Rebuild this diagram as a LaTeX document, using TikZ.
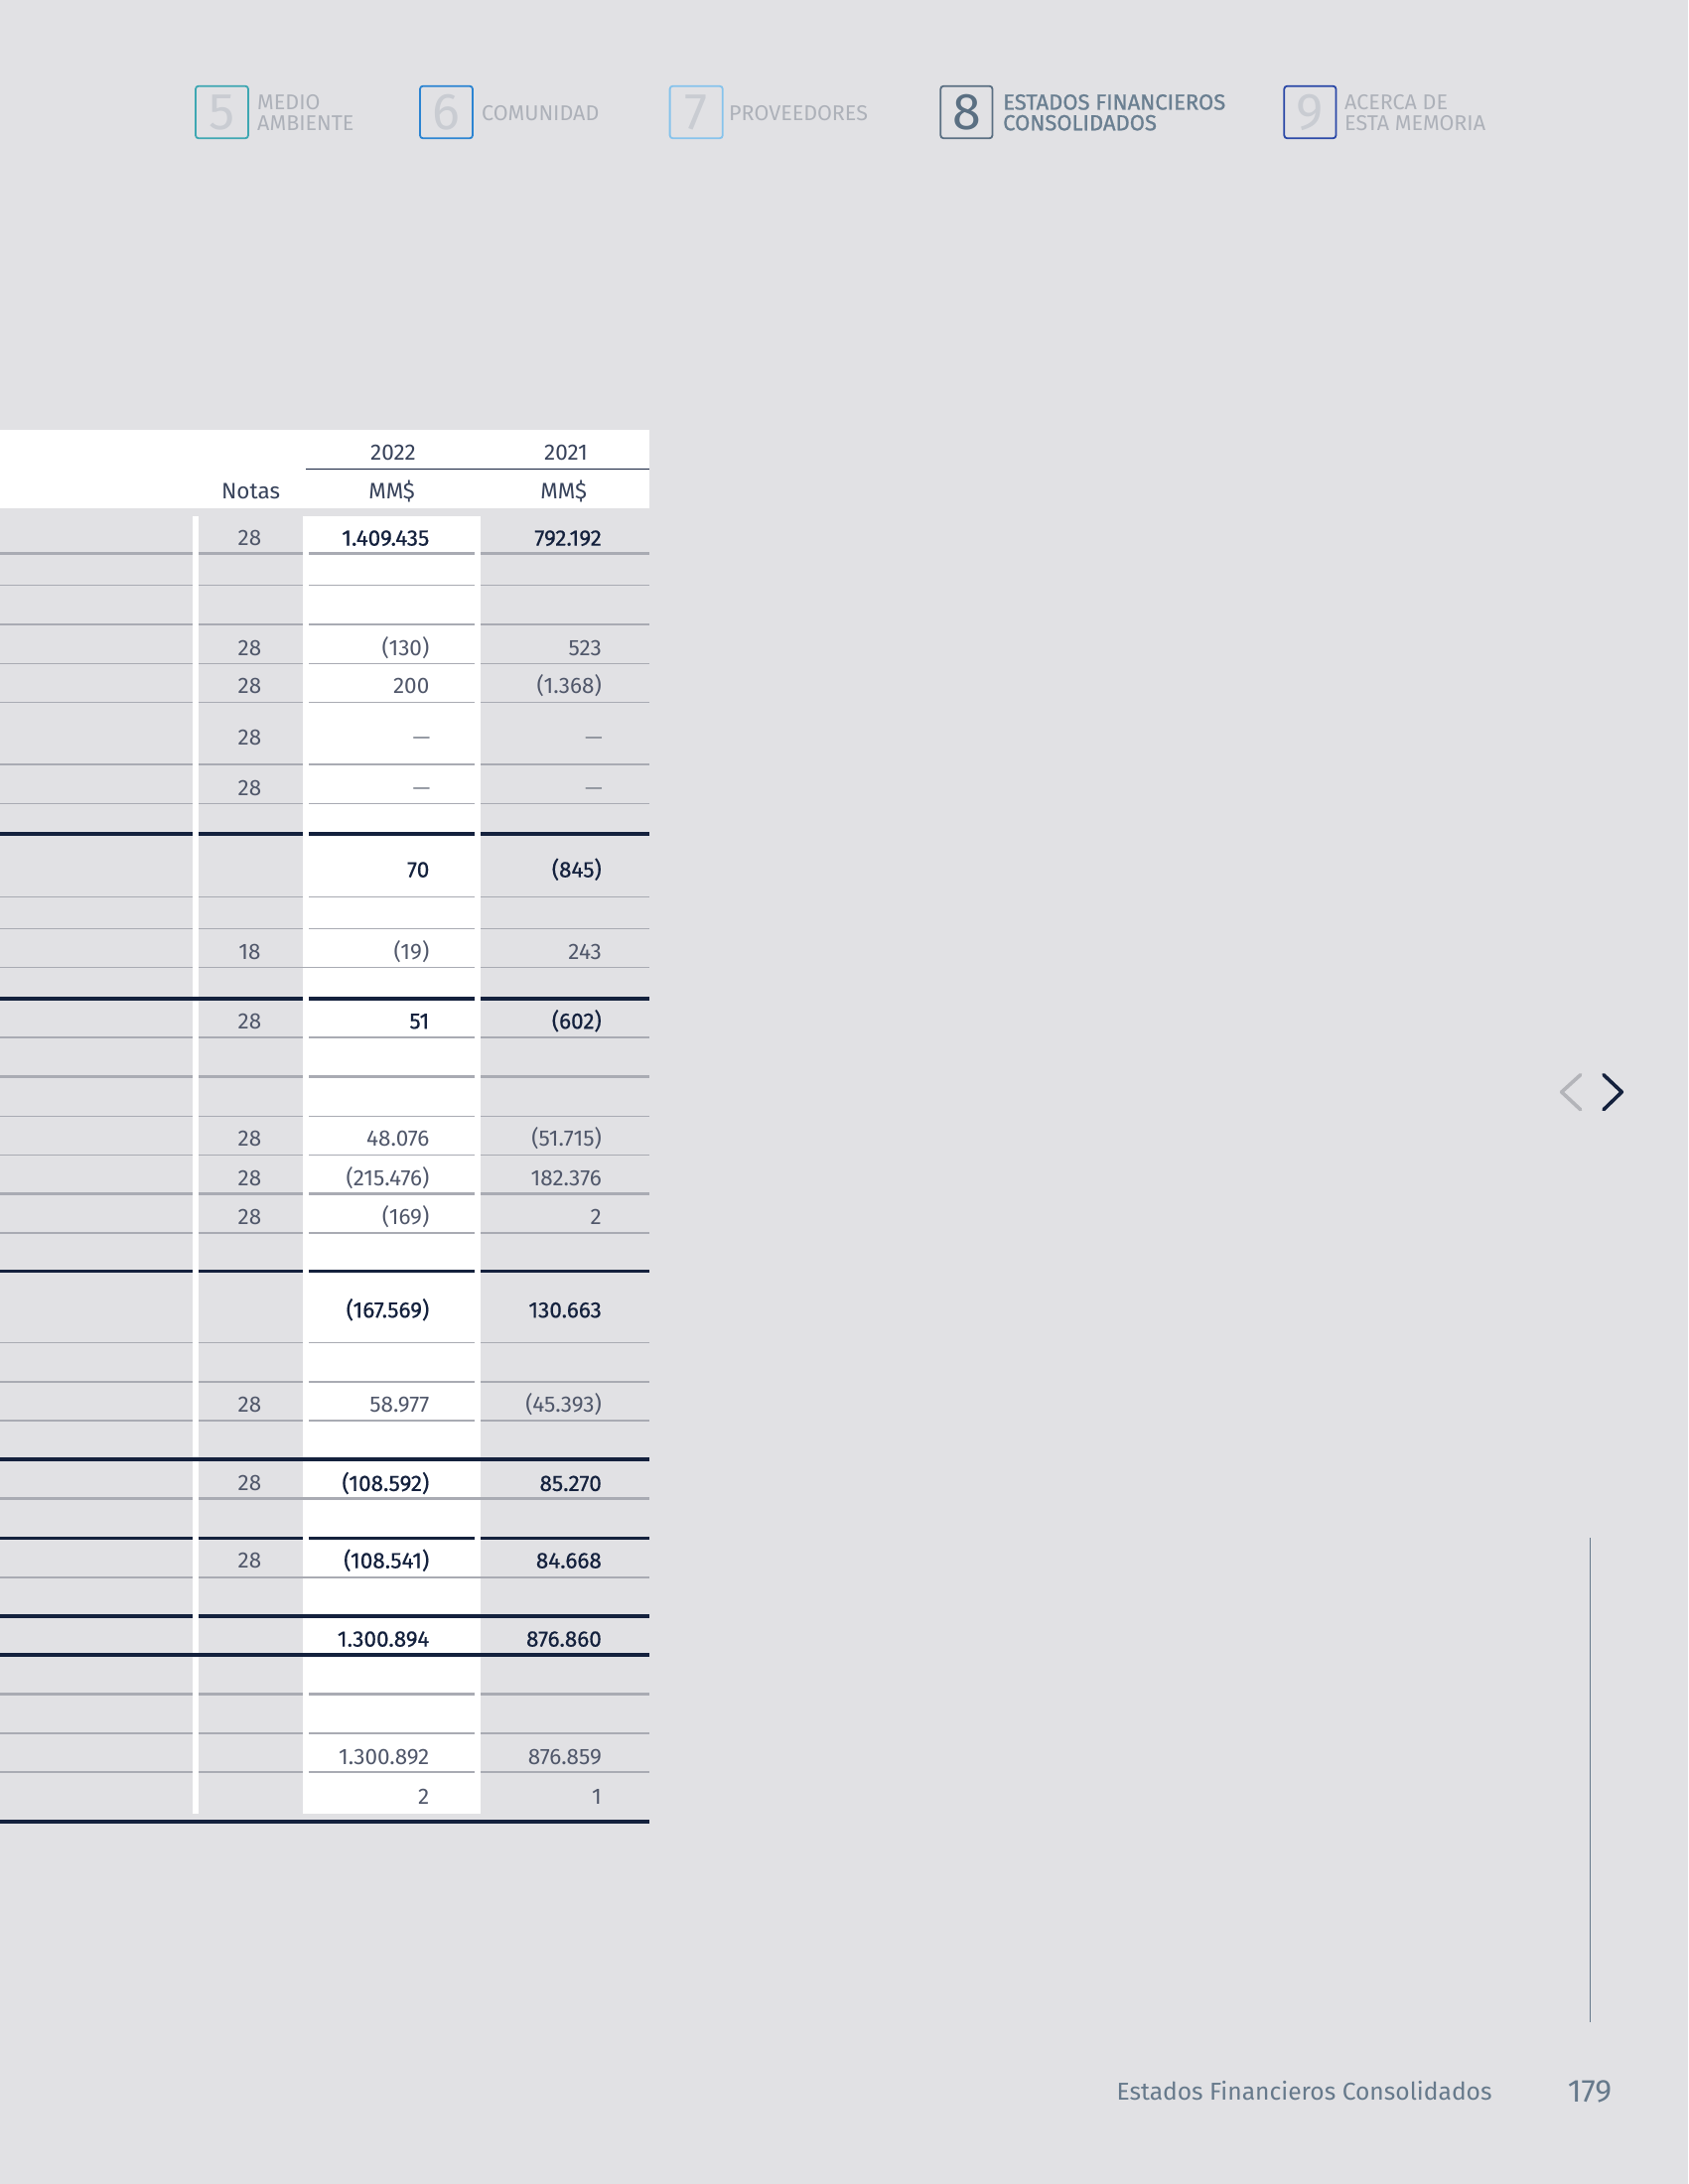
\documentclass[tikz,border=0pt]{standalone}
\usepackage{fontspec}
\setmainfont{Fira Sans}
\newfontfamily\condfont{Fira Sans}
\newfontfamily\condbold{Fira Sans}[FakeBold=0.5]
\newfontfamily\navfont{Fira Sans}
\newfontfamily\navbold{Fira Sans}[FakeBold=1.0]
\definecolor{bgc}{HTML}{E1E1E4}
\definecolor{navy}{HTML}{14213D}
\definecolor{numgray}{HTML}{50576A}
\definecolor{linegray}{HTML}{A9ABB3}
\definecolor{navgray}{HTML}{ADB1B9}
\definecolor{digitgray}{HTML}{C9CCD2}
\definecolor{slate}{HTML}{5A6F82}
\definecolor{slatetext}{HTML}{6A7F91}
\definecolor{cteal}{HTML}{3EA7B2}
\definecolor{cblue}{HTML}{2B84D2}
\definecolor{clight}{HTML}{86C3EC}
\definecolor{cnavy}{HTML}{2947A6}
\definecolor{footc}{HTML}{66798B}
\definecolor{chevgray}{HTML}{B3B4B9}
\definecolor{dashc}{HTML}{8A8F99}
\tikzset{
  rulethin/.style={draw=linegray,line width=1.6pt},
  rulethick/.style={draw=linegray,line width=2.5pt},
  ruledark/.style={draw=navy,line width=3.2pt},
  num/.style={anchor=base east,inner sep=0pt,font=\condfont\fontsize{22.5}{26}\selectfont,text=numgray},
  bnum/.style={anchor=base east,inner sep=0pt,font=\condbold\fontsize{22.5}{26}\selectfont,text=navy},
  dashn/.style={anchor=base east,inner sep=0pt,font=\condfont\fontsize{22.5}{26}\selectfont,text=dashc},
  nota/.style={anchor=base,inner sep=0pt,font=\condfont\fontsize{22.5}{26}\selectfont,text=numgray},
  head/.style={anchor=base,inner sep=0pt,font=\condfont\fontsize{22.5}{26}\selectfont,text=navy!85!white},
  navbox/.style={rounded corners=3pt,line width=1.8pt},
  navdigit/.style={inner sep=0pt,font=\navfont\fontsize{52}{56}\selectfont},
  navtext/.style={anchor=west,inner sep=0pt,align=left,font=\navfont\fontsize{21.5}{20.8}\selectfont,text=navgray},
  navtextb/.style={anchor=west,inner sep=0pt,align=left,font=\navbold\fontsize{22}{20.8}\selectfont,text=slatetext},
  chev/.style={line width=3.6pt,line cap=round,line join=round}
}
\begin{document}
\begin{tikzpicture}[x=1pt,y=-1pt]
\fill[bgc] (0,0) rectangle (1700,2200);
\useasboundingbox (0,0) rectangle (1700,2200);

% ---------- navigation header ----------
\draw[navbox,draw=cteal] (197,86.7) rectangle (250,139.3);
\node[navdigit,text=digitgray] (d5) at (223.5,113) {5};
\node[navtext] (t5) at (259,113.5) {MEDIO\\AMBIENTE};

\draw[navbox,draw=cblue] (423,86.7) rectangle (476,139.3);
\node[navdigit,text=digitgray] (d6) at (449.5,113) {6};
\node[navtext] (t6) at (485,114.3) {COMUNIDAD};

\draw[navbox,draw=clight] (674.6,86.7) rectangle (727.8,139.3);
\node[navdigit,text=digitgray] (d7) at (701.2,113) {7};
\node[navtext] (t7) at (734,114.3) {PROVEEDORES};

\draw[navbox,draw=slate] (947.3,86.7) rectangle (999.5,139.3);
\node[navdigit,text=slate] (d8) at (973.4,113) {8};
\node[navtextb] (t8) at (1010,113.3) {ESTADOS FINANCIEROS\\CONSOLIDADOS};

\draw[navbox,draw=cnavy] (1293.3,86.7) rectangle (1345.5,139.3);
\node[navdigit,text=digitgray] (d9) at (1319.4,113) {9};
\node[navtext] (t9) at (1354,113.5) {ACERCA DE\\ESTA MEMORIA};

% ---------- table header ----------
\fill[white] (0,432.7) rectangle (654,511.7);
\draw[draw=navy,line width=1.6pt] (308,472.3) -- (654,472.3);
\node[head] (h2022) at (396,463.8) {2022};
\node[head] (h2021) at (570,463.8) {2021};
\node[head] (hnotas) at (252.5,502.8) {Notas};
\node[head] (hmm1) at (394.6,502.8) {MM\$};
\node[head] (hmm2) at (567.7,502.8) {MM\$};

% ---------- white column & strip ----------
\fill[white] (305,520) rectangle (484,1826.7);
\fill[white] (194.4,520) rectangle (200,1826.7);

% ---------- rules (four segments) ----------
\foreach \yy/\st in {557.3/rulethick,589.3/rulethin,629/rulethick,668.3/rulethin,707.3/rulethin,
  770/rulethick,809.3/rulethin,840/ruledark,903.3/rulethin,935.3/rulethin,1045/rulethin,
  1084.3/rulethick,1124.3/rulethin,1163.3/rulethin,1202.7/rulethick,1242/rulethin,1280.7/ruledark,
  1352.3/rulethin,1392/rulethick,1431/rulethin,1549.3/ruledark,1706.7/rulethick,1746/rulethin,1785/rulethin}{
  \draw[\st] (0,\yy) -- (194.4,\yy);
  \draw[\st] (200,\yy) -- (305,\yy);
  \draw[\st] (311,\yy) -- (478,\yy);
  \draw[\st] (484,\yy) -- (654,\yy);
}
% joined segments
\draw[rulethin] (0,974.3) -- (194.4,974.3);
\draw[rulethin] (200,974.3) -- (478,974.3);
\draw[rulethin] (484,974.3) -- (654,974.3);
\draw[ruledark] (0,1006) -- (305,1006);
\draw[ruledark] (311,1006) -- (478,1006);
\draw[ruledark] (484,1006) -- (654,1006);
\draw[ruledark] (0,1470) -- (654,1470);
\draw[rulethick] (0,1509.7) -- (194.4,1509.7);
\draw[rulethick] (200,1509.7) -- (654,1509.7);
\draw[rulethick] (0,1589) -- (194.4,1589);
\draw[rulethick] (200,1589) -- (654,1589);
\draw[ruledark] (0,1628) -- (194.4,1628);
\draw[ruledark] (200,1628) -- (654,1628);
\draw[ruledark] (0,1667) -- (654,1667);
\draw[ruledark] (0,1835) -- (654,1835);

% ---------- table values ----------
\node[nota] (n1) at (251.5,549.6) {28};
\node[bnum] (a1) at (432.5,549.6) {1.409.435};
\node[bnum] (b1) at (606,549.6) {792.192};

\node[nota] (n2) at (251.5,660.2) {28};
\node[num] (a2) at (432.5,660.2) {(130)};
\node[num] (b2) at (606,660.2) {523};

\node[nota] (n3) at (251.5,698.6) {28};
\node[num] (a3) at (432.5,698.6) {200};
\node[num] (b3) at (606,698.6) {(1.368)};

\node[nota] (n4) at (251.5,750.6) {28};
\node[dashn] (a4) at (433.5,750.6) {—};
\node[dashn] (b4) at (607,750.6) {—};

\node[nota] (n5) at (251.5,801.2) {28};
\node[dashn] (a5) at (433.5,801.2) {—};
\node[dashn] (b5) at (607,801.2) {—};

\node[bnum] (a6) at (432.5,883.6) {70};
\node[bnum] (b6) at (606,883.6) {(845)};

\node[nota] (n7) at (251.5,966.2) {18};
\node[num] (a7) at (432.5,966.2) {(19)};
\node[num] (b7) at (606,966.2) {243};

\node[nota] (n8) at (251.5,1036.2) {28};
\node[bnum] (a8) at (432.5,1036.2) {51};
\node[bnum] (b8) at (606,1036.2) {(602)};

\node[nota] (n9) at (251.5,1154.6) {28};
\node[num] (a9) at (432.5,1154.6) {48.076};
\node[num] (b9) at (606,1154.6) {(51.715)};

\node[nota] (n10) at (251.5,1194.6) {28};
\node[num] (a10) at (432.5,1194.6) {(215.476)};
\node[num] (b10) at (606,1194.6) {182.376};

\node[nota] (n11) at (251.5,1233.6) {28};
\node[num] (a11) at (432.5,1233.6) {(169)};
\node[num] (b11) at (606,1233.6) {2};

\node[bnum] (a12) at (432.5,1327.2) {(167.569)};
\node[bnum] (b12) at (606,1327.2) {130.663};

\node[nota] (n13) at (251.5,1422.9) {28};
\node[num] (a13) at (432.5,1422.9) {58.977};
\node[num] (b13) at (606,1422.9) {(45.393)};

\node[nota] (n14) at (251.5,1501.9) {28};
\node[bnum] (a14) at (432.5,1501.9) {(108.592)};
\node[bnum] (b14) at (606,1501.9) {85.270};

\node[nota] (n15) at (251.5,1579.6) {28};
\node[bnum] (a15) at (432.5,1579.6) {(108.541)};
\node[bnum] (b15) at (606,1579.6) {84.668};

\node[bnum] (a16) at (432.5,1658.6) {1.300.894};
\node[bnum] (b16) at (606,1658.6) {876.860};

\node[num] (a17) at (432.5,1777.2) {1.300.892};
\node[num] (b17) at (606,1777.2) {876.859};

\node[num] (a18) at (432.5,1817.2) {2};
\node[num] (b18) at (606,1817.2) {1};

% ---------- page navigation chevrons ----------
\draw[chev,draw=chevgray] (1591.7,1082.7) -- (1572.7,1100) -- (1591.7,1117.7);
\draw[chev,draw=navy] (1615,1082.7) -- (1633.3,1100) -- (1615,1117.7);

% ---------- side rule ----------
\draw[draw=footc,line width=1.6pt] (1601.3,1549.3) -- (1601.3,2037);

% ---------- footer ----------
\node[anchor=base west,inner sep=0pt,font=\navfont\fontsize{24.6}{28}\selectfont,text=footc] (foot) at (1124.3,2115.5) {Estados Financieros Consolidados};
\node[anchor=base west,inner sep=0pt,font=\navfont\fontsize{32}{36}\selectfont,text=footc] (page) at (1578.6,2117.5) {179};
\end{tikzpicture}
\end{document}
